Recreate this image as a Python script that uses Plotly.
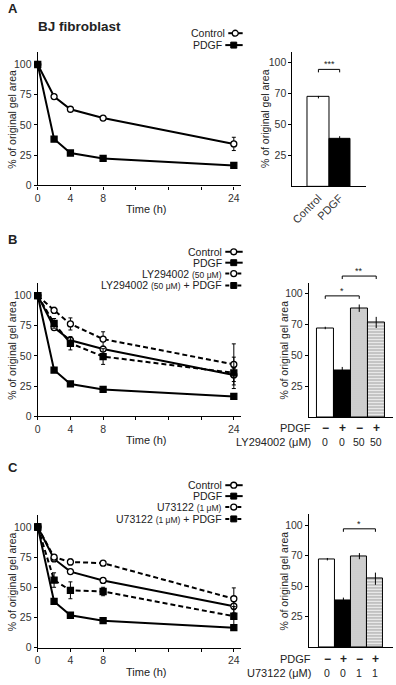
import plotly.graph_objects as go

W, H = 396, 685

# ---------------- data ----------------
time_h = [0, 2, 4, 8, 24]
control = [100, 73.5, 63, 55.7, 34.3]
control_err = [0, 1.2, 1.5, 2, 5.5]
pdgf = [100, 38.3, 26.8, 22.3, 16.5]
pdgf_err = [0, 1.5, 2, 1.5, 1.2]
ly = [100, 87.8, 76.5, 64, 43]
ly_err = [0, 2.5, 5, 6, 17]
ly_pdgf = [100, 77, 60.5, 49.5, 36]
ly_pdgf_err = [0, 4, 5.5, 6.5, 13]
u73 = [100, 75, 71, 70, 40.5]
u73_err = [0, 1.5, 2.5, 1, 9]
u73_pdgf = [100, 56, 47.5, 46.5, 26]
u73_pdgf_err = [0, 6, 7, 3.5, 8]

bar_a_labels = ["Control", "PDGF"]
bar_a = [72, 38]
bar_a_err = [1, 2.5]
bar_b = [72, 38, 88, 76.5]
bar_b_err = [1, 2.5, 3, 4.5]
bar_c = [72, 38, 74.5, 56]
bar_c_err = [1, 2.5, 2.5, 5]

pdgf_row = ["\u2212", "+", "\u2212", "+"]
ly_row = ["0", "0", "50", "50"]
u73_row = ["0", "0", "1", "1"]

line_tickvals = [0, 4, 8, 12, 16, 20, 24]
line_ticktext = ["0", "4", "8", "", "", "", "24"]
pct_ticks = [0, 25, 50, 75, 100]
bar_tickvals = [25, 50, 75, 100]
bar_ticktext = ["25", "50", "70", "100"]

# significance brackets: (axis, bar i, bar j, label)
brackets = [("x2", 0, 1, "***"), ("x4", 0, 2, "*"), ("x4", 1, 3, "**"), ("x6", 1, 3, "*")]
bracket_px = [70, 298.5, 278.5, 533.5]

FONT = "Liberation Sans, Arial, Helvetica, sans-serif"
TXT = "#222222"


def px(x):
    return x / W


def py(y):
    return 1 - y / H


fig = go.Figure()


def line_trace(y, err, xa, ya, filled, dashed):
    return go.Scatter(
        x=time_h, y=y, xaxis=xa, yaxis=ya, mode="lines+markers",
        line=dict(color="black", width=2, dash="5px,3px" if dashed else "solid"),
        marker=dict(symbol="square" if filled else "circle", size=6,
                    color="black" if filled else "white",
                    line=dict(color="black", width=1.3)),
        error_y=dict(type="data", array=err, visible=True, color="black",
                     thickness=1, width=2),
        cliponaxis=False, hoverinfo="skip", showlegend=False)


# Panel A lines
fig.add_trace(line_trace(control, control_err, "x", "y", False, False))
fig.add_trace(line_trace(pdgf, pdgf_err, "x", "y", True, False))
# Panel B lines
fig.add_trace(line_trace(control, control_err, "x3", "y3", False, False))
fig.add_trace(line_trace(ly, ly_err, "x3", "y3", False, True))
fig.add_trace(line_trace(ly_pdgf, ly_pdgf_err, "x3", "y3", True, True))
fig.add_trace(line_trace(pdgf, pdgf_err, "x3", "y3", True, False))
# Panel C lines
fig.add_trace(line_trace(control, control_err, "x5", "y5", False, False))
fig.add_trace(line_trace(u73, u73_err, "x5", "y5", False, True))
fig.add_trace(line_trace(u73_pdgf, u73_pdgf_err, "x5", "y5", True, True))
fig.add_trace(line_trace(pdgf, pdgf_err, "x5", "y5", True, False))


def bar_trace(vals, errs, xa, ya):
    n = len(vals)
    colors = ["white", "black", "#d6d6d6", "white"][:n]
    return go.Bar(
        x=list(range(n)), y=vals, xaxis=xa, yaxis=ya, width=1,
        marker=dict(color=colors, line=dict(color="black", width=1),
                    pattern=dict(shape=["", "", ".", "-"][:n],
                                 fgcolor=["black", "black", "#c2c2c2", "black"][:n],
                                 size=[4, 4, 2, 3][:n],
                                 solidity=[0.3, 0.3, 0.15, 0.5][:n])),
        error_y=dict(type="data", array=errs, visible=True, color="black",
                     thickness=1, width=0),
        hoverinfo="skip", showlegend=False)


fig.add_trace(bar_trace(bar_a, bar_a_err, "x2", "y2"))
fig.add_trace(bar_trace(bar_b, bar_b_err, "x4", "y4"))
fig.add_trace(bar_trace(bar_c, bar_c_err, "x6", "y6"))

# ---------------- axes ----------------
tickfont = dict(family=FONT, size=10.5, color="#333333")


def line_axes(xn, yn, ybot, ytop):
    xa = dict(domain=[px(35), px(240)], range=[0, 24.9], anchor=yn, showline=True,
              linecolor="black", linewidth=1.3, ticks="outside", ticklen=3,
              tickcolor="black", tickwidth=1, tickvals=line_tickvals,
              ticktext=line_ticktext, tickfont=tickfont, showgrid=False,
              zeroline=False, fixedrange=True)
    ya = dict(domain=[py(ybot), py(ytop)], range=[0, 110], anchor=xn, showline=True,
              linecolor="black", linewidth=1.3, ticks="outside", ticklen=3,
              tickcolor="black", tickwidth=1, tickvals=pct_ticks,
              tickfont=tickfont, showgrid=False, zeroline=False, fixedrange=True)
    return xa, ya


def bar_axes(xn, yn, xl, xr, xrange, ybot, ytop, yrange, labels=None):
    xa = dict(domain=[px(xl), px(xr)], range=xrange, anchor=yn, showline=True,
              linecolor="black", linewidth=1.3, ticks="", showgrid=False,
              zeroline=False, fixedrange=True)
    if labels:
        xa.update(tickvals=list(range(len(labels))), ticktext=labels,
                  tickangle=-45, tickfont=dict(family=FONT, size=11, color="#333333"),
                  showticklabels=True)
    else:
        xa.update(showticklabels=False)
    ya = dict(domain=[py(ybot), py(ytop)], range=yrange, anchor=xn, showline=True,
              linecolor="black", linewidth=1.3, ticks="outside", ticklen=3,
              tickcolor="black", tickwidth=1, tickvals=bar_tickvals,
              ticktext=bar_ticktext, tickfont=tickfont, showgrid=False,
              zeroline=False, fixedrange=True)
    return xa, ya


xa1, ya1 = line_axes("x", "y", 187, 52.9)
xa3, ya3 = line_axes("x3", "y3", 420, 286)
xa5, ya5 = line_axes("x5", "y5", 653.3, 519.5)
xa2, ya2 = bar_axes("x2", "y2", 291.7, 366, [-1.22, 2.25], 188, 52.3, [0, 108.6], bar_a_labels)
xa4, ya4 = bar_axes("x4", "y4", 308.3, 393, [-0.96, 3.99], 420.7, 285, [0, 108.8])
xa6, ya6 = bar_axes("x6", "y6", 308.3, 393, [-1.15, 4.1], 652.7, 519, [0, 108.7])

fig.update_layout(
    width=W, height=H, autosize=False,
    margin=dict(l=0, r=0, t=0, b=0),
    paper_bgcolor="white", plot_bgcolor="white", showlegend=False,
    font=dict(family=FONT, size=10.5, color=TXT),
    bargap=0,
    xaxis=xa1, yaxis=ya1, xaxis2=xa2, yaxis2=ya2, xaxis3=xa3, yaxis3=ya3,
    xaxis4=xa4, yaxis4=ya4, xaxis5=xa5, yaxis5=ya5, xaxis6=xa6, yaxis6=ya6,
)

ann = []
shapes = []


def text(x, y, t, size=10.5, xanchor="center", angle=0, bold=False, xref="paper"):
    ann.append(dict(x=x if xref != "paper" else px(x), y=py(y), xref=xref, yref="paper",
                    text=f"<b>{t}</b>" if bold else t, showarrow=False,
                    xanchor=xanchor, yanchor="middle", textangle=angle, borderpad=0,
                    font=dict(family=FONT, size=size, color=TXT)))


# panel letters / title
text(4, 9, "A", 13, "left", bold=True)
text(4, 242, "B", 13, "left", bold=True)
text(4, 472, "C", 13, "left", bold=True)
text(34, 27, "BJ fibroblast", 13.5, "left", bold=True)

# axis titles
for yc in [(187 + 52.9) / 2, (420 + 286) / 2, (653.3 + 519.5) / 2]:
    text(9, yc, "% of original gel area", 10.5, angle=-90)
text(264, (188 + 52.3) / 2, "% of original gel area", 10.5, angle=-90)
text(283, (420.7 + 285) / 2, "% of original gel area", 10.5, angle=-90)
text(283, (652.7 + 519) / 2, "% of original gel area", 10.5, angle=-90)
for yt in [211, 444, 678]:
    text(145, yt, "Time (h)", 11)

# legends
SMALL = '<span style="font-size:8.5px">'
LEG = 10.5


def legend_row(y, label, filled, dashed, x_text=222, x0=224, x1=241.5, xm=232.5):
    text(x_text, y, label, LEG, "right")
    shapes.append(dict(type="line", xref="paper", yref="paper", x0=px(x0), x1=px(x1),
                       y0=py(y), y1=py(y),
                       line=dict(color="black", width=2, dash="4px,2px" if dashed else "solid")))
    if filled:
        shapes.append(dict(type="rect", xref="paper", yref="paper", x0=px(xm - 3), x1=px(xm + 3),
                           y0=py(y + 3), y1=py(y - 3), fillcolor="black",
                           line=dict(color="black", width=1)))
    else:
        shapes.append(dict(type="circle", xref="paper", yref="paper", x0=px(xm - 3), x1=px(xm + 3),
                           y0=py(y + 3), y1=py(y - 3), fillcolor="white",
                           line=dict(color="black", width=1.3)))


legend_row(33.5, "Control", False, False, 225, 227, 241.5, 234)
legend_row(45.5, "PDGF", True, False, 222, 224, 241.5, 232.5)

for yy, lab, f, d in zip([254, 265, 276, 288],
                         ["Control", "PDGF", f"LY294002 {SMALL}(50 \u03bcM)</span>",
                          f"LY294002 {SMALL}(50 \u03bcM)</span> + PDGF"],
                         [False, True, False, True], [False, False, True, True]):
    legend_row(yy, lab, f, d)

for yy, lab, f, d in zip([489.5, 500.5, 511.5, 523.5],
                         ["Control", "PDGF", f"U73122 {SMALL}(1 \u03bcM)</span>",
                          f"U73122 {SMALL}(1 \u03bcM)</span> + PDGF"],
                         [False, True, False, True], [False, False, True, True]):
    legend_row(yy, lab, f, d)

# bar row labels
text(311, 432, "PDGF", 11, "right")
text(311, 445.5, "LY294002 (\u03bcM)", 11, "right")
for i, (s, v) in enumerate(zip(pdgf_row, ly_row)):
    text(i, 432, s, 12, xref="x4", bold=True)
    text(i, 445.5, v, 10.5, xref="x4")
text(311, 665, "PDGF", 11, "right")
text(311, 679, "U73122 (\u03bcM)", 11, "right")
for i, (s, v) in enumerate(zip(pdgf_row, u73_row)):
    text(i, 665, s, 12, xref="x6", bold=True)
    text(i, 679, v, 10.5, xref="x6")

# significance brackets
for (xr, i, j, lab), yb in zip(brackets, bracket_px):
    shapes.append(dict(type="path", xref=xr, yref="paper",
                       path=f"M {i},{py(yb + 3)} L {i},{py(yb)} L {j},{py(yb)} L {j},{py(yb + 3)}",
                       line=dict(color="black", width=1)))
    text((i + j) / 2, yb - 5, lab, 9, xref=xr)

fig.update_layout(annotations=ann, shapes=shapes)

fig.write_html("out.html", config={"displayModeBar": False},
               post_script="document.body.style.margin='0';document.body.style.overflow='hidden';")
